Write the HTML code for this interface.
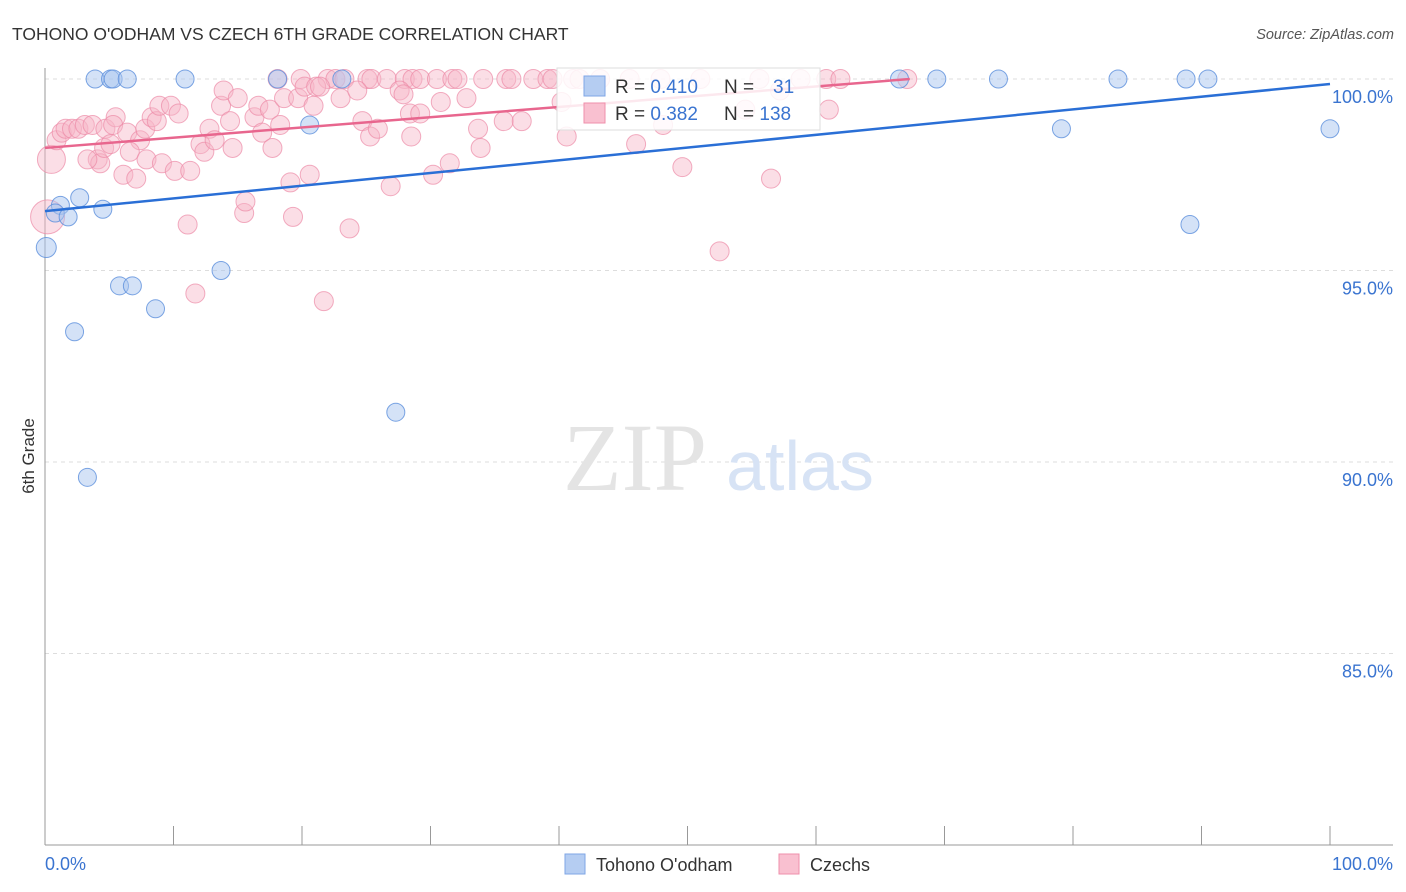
<!DOCTYPE html>
<html><head><meta charset="utf-8"><style>
body{margin:0;background:#fff;font-family:"Liberation Sans",sans-serif}
svg{display:block}
</style></head><body>
<svg id="c" width="1406" height="892" xmlns="http://www.w3.org/2000/svg">
<text x="12" y="40" font-size="17.5" fill="#333">TOHONO O'ODHAM VS CZECH 6TH GRADE CORRELATION CHART</text>
<text x="1394" y="39" font-size="14.5" fill="#555" font-style="italic" text-anchor="end">Source: ZipAtlas.com</text>
<text x="34" y="456" font-size="17" fill="#333" transform="rotate(-90 34 456)" text-anchor="middle">6th Grade</text>
<g id="grid"></g>
<text x="635" y="490" font-size="96" fill="#e4e4e4" font-family="Liberation Serif" text-anchor="middle">ZIP</text>
<text x="800" y="490" font-size="70" fill="#d7e3f5" text-anchor="middle">atlas</text>
<g id="pts"></g>
<g id="lines"></g>
<g>
<rect x="557" y="68" width="263" height="62" fill="#fff" fill-opacity="0.85" stroke="#ddd"/>
<rect x="584" y="76" width="21" height="20" fill="#b5cdf2" stroke="#7fa6e6"/>
<rect x="584" y="103" width="21" height="20" fill="#f9c0d0" stroke="#ef8fab"/>
<text x="615" y="93" font-size="19" fill="#333">R = <tspan fill="#3a74d0">0.410</tspan></text>
<text x="724" y="93" font-size="19" fill="#333">N = <tspan fill="#3a74d0" x="773">31</tspan></text>
<text x="615" y="120" font-size="19" fill="#333">R = <tspan fill="#3a74d0">0.382</tspan></text>
<text x="724" y="120" font-size="19" fill="#333">N = <tspan fill="#3a74d0">138</tspan></text>
</g>
<g>
<rect x="565" y="854" width="20" height="20" fill="#b5cdf2" stroke="#7fa6e6"/>
<text x="596" y="871" font-size="18" fill="#333">Tohono O'odham</text>
<rect x="779" y="854" width="20" height="20" fill="#f9c0d0" stroke="#ef8fab"/>
<text x="810" y="871" font-size="18" fill="#333">Czechs</text>
</g>
</svg>
<script>
const yTicks=[100,95,90,85];
const yTickLabels=["100.0%","95.0%","90.0%","85.0%"];
const xTickVals=[0,10,20,30,40,50,60,70,80,90,100];
const xEndLabels=["0.0%","100.0%"];
const blueX=[3.9,5.1,5.3,6.4,10.9,18.1,23.1,66.5,69.4,74.2,83.5,88.8,90.5,20.6,79.1,100,2.7,4.5,1.2,0.8,1.8,89.1,0.1,13.7,5.8,6.8,8.6,2.3,27.3,3.3];
const blueY=[100,100,100,100,100,100,100,100,100,100,100,100,100,98.8,98.7,98.7,96.9,96.6,96.7,96.5,96.4,96.2,95.6,95.0,94.6,94.6,94.0,93.4,91.3,89.6];
const pinkX=[18.1,19.9,22.0,22.6,23.3,25.1,25.4,26.6,28.0,28.6,29.2,30.5,31.7,32.1,34.1,35.9,36.3,38.0,39.1,39.5,41.1,41.6,43.2,45.5,47.9,51.0,55.6,58.8,60.8,61.9,67.1,
0.5,0.2,0.9,1.3,1.6,2.1,2.6,3.1,3.7,4.7,4.1,4.3,3.3,4.6,5.1,5.5,5.3,6.4,7.4,7.8,6.6,7.9,6.1,7.1,8.3,8.7,8.9,9.8,10.4,9.1,10.1,11.3,11.1,11.7,12.1,12.4,12.8,13.2,13.7,13.9,14.6,15.0,14.4,15.5,15.6,16.3,16.6,16.9,17.5,17.7,18.3,18.6,19.1,19.3,19.7,20.2,20.6,21.1,21.4,20.9,21.7,23.0,23.7,24.3,24.7,25.3,25.9,26.9,27.6,27.9,28.5,28.4,29.2,30.2,30.8,31.5,32.8,33.7,33.9,35.7,37.1,40.2,40.6,46.0,48.1,49.6,52.5,56.5,61.0,57.2,54.5];
const pinkY=[100,100,100,100,100,100,100,100,100,100,100,100,100,100,100,100,100,100,100,100,100,100,100,100,100,100,100,100,100,100,100,
97.9,96.4,98.4,98.6,98.7,98.7,98.7,98.8,98.8,98.7,97.9,97.8,97.9,98.2,98.3,99.0,98.8,98.6,98.4,98.7,98.1,97.9,97.5,97.4,99.0,98.9,99.3,99.3,99.1,97.8,97.6,97.6,96.2,94.4,98.3,98.1,98.7,98.4,99.3,99.7,98.2,99.5,98.9,96.5,96.8,99.0,99.3,98.6,99.2,98.2,98.8,99.5,97.3,96.4,99.5,99.8,97.5,99.8,99.8,99.3,94.2,99.5,96.1,99.7,98.9,98.5,98.7,97.2,99.7,99.6,98.5,99.1,99.1,97.5,99.4,97.8,99.5,98.7,98.2,98.9,98.9,99.4,98.5,98.3,98.8,97.7,95.5,97.4,99.2,99.7,99.2];
const blueTrend=[96.55,99.87];
const pinkTrend=[98.2,100];
const pinkTrendEnd=67.3;
const NS="http://www.w3.org/2000/svg";
const X0=45,X1=1330,Y100=79,PX_PER=38.3;
function sx(v){return X0+(X1-X0)*v/100;}
function sy(v){return Y100+(100-v)*PX_PER;}
function mk(tag,attrs,parent){const e=document.createElementNS(NS,tag);for(const k in attrs)e.setAttribute(k,attrs[k]);parent.appendChild(e);return e;}
const grid=document.getElementById('grid');
yTicks.forEach((t,i)=>{
 const l=mk('line',{x1:45,x2:1393,y1:sy(t),y2:sy(t),stroke:'#ddd','stroke-dasharray':'4 4'},grid);
 
 
 const tx=mk('text',{x:1393,y:sy(t)+24,'font-size':18,fill:'#3a74d0','text-anchor':'end'},grid);
 tx.textContent=yTickLabels[i];
 
 
});
const ya=mk('line',{x1:45,x2:45,y1:68,y2:845,stroke:'#999'},grid);


const xa=mk('line',{x1:45,x2:1393,y1:845,y2:845,stroke:'#999'},grid);


xTickVals.forEach(v=>{
 const t=mk('line',{x1:sx(v),x2:sx(v),y1:826,y2:845,stroke:'#999'},grid);
 
 
});
[[0,'start',45],[100,'end',1393]].forEach((d,i)=>{
 const t=mk('text',{x:d[2],y:870,'font-size':18,fill:'#3a74d0','text-anchor':d[1]},grid);
 t.textContent=xEndLabels[i];
 
 
});
const pts=document.getElementById('pts');
pinkX.forEach((x,i)=>{
 let r=9.5; if(i===31)r=14; if(i===32)r=17;
 const c=mk('circle',{cx:sx(x),cy:sy(pinkY[i]),r:r,fill:'#f7b6c8','fill-opacity':0.45,stroke:'#ec8aa7','stroke-opacity':0.7},pts);
 
 
});
blueX.forEach((x,i)=>{
 const c=mk('circle',{cx:sx(x),cy:sy(blueY[i]),r:i===22?10:9,fill:'#a9c6f0','fill-opacity':0.5,stroke:'#5b8fdc','stroke-opacity':0.8},pts);
 
 
});
const lines=document.getElementById('lines');
const bl=mk('line',{x1:sx(0),y1:sy(blueTrend[0]),x2:sx(100),y2:sy(blueTrend[1]),stroke:'#2a6fd6','stroke-width':2.5},lines);


const pl=mk('line',{x1:sx(0),y1:sy(pinkTrend[0]),x2:sx(pinkTrendEnd),y2:sy(pinkTrend[1]),stroke:'#e8668e','stroke-width':2.5},lines);


</script>
</body></html>
